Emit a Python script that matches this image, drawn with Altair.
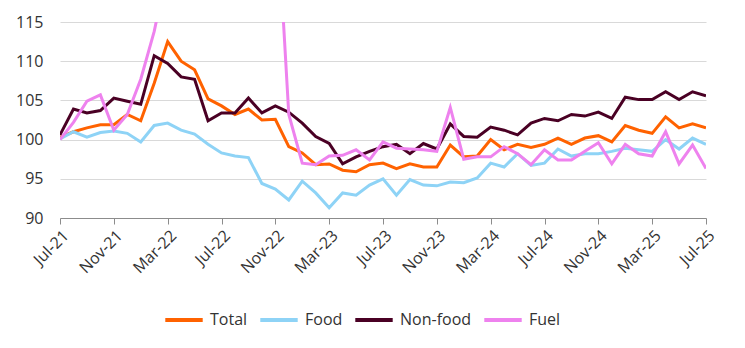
import altair as alt
import pandas as pd

months = [
    "Jul-21", "Aug-21", "Sep-21", "Oct-21", "Nov-21", "Dec-21",
    "Jan-22", "Feb-22", "Mar-22", "Apr-22", "May-22", "Jun-22",
    "Jul-22", "Aug-22", "Sep-22", "Oct-22", "Nov-22", "Dec-22",
    "Jan-23", "Feb-23", "Mar-23", "Apr-23", "May-23", "Jun-23",
    "Jul-23", "Aug-23", "Sep-23", "Oct-23", "Nov-23", "Dec-23",
    "Jan-24", "Feb-24", "Mar-24", "Apr-24", "May-24", "Jun-24",
    "Jul-24", "Aug-24", "Sep-24", "Oct-24", "Nov-24", "Dec-24",
    "Jan-25", "Feb-25", "Mar-25", "Apr-25", "May-25", "Jun-25",
    "Jul-25",
]

tick_labels = ["Jul-21", "Nov-21", "Mar-22", "Jul-22", "Nov-22", "Mar-23", "Jul-23",
               "Nov-23", "Mar-24", "Jul-24", "Nov-24", "Mar-25", "Jul-25"]
y_ticks = [90, 95, 100, 105, 110, 115]

total = [100.3, 101.0, 101.5, 101.9, 101.9, 103.2, 102.4, 107.2, 112.5, 110.0,
         108.9, 105.2, 104.3, 103.2, 103.9, 102.5, 102.6, 99.1, 98.3, 96.8,
         96.9, 96.1, 95.9, 96.8, 97.0, 96.3, 96.9, 96.5, 96.5, 99.3,
         97.8, 97.9, 100.0, 98.7, 99.4, 99.0, 99.4, 100.2, 99.4, 100.2,
         100.5, 99.7, 101.8, 101.2, 100.8, 102.9, 101.5, 102.0, 101.5]

food = [100.1, 101.0, 100.3, 100.9, 101.1, 100.8, 99.7, 101.8, 102.1, 101.2,
        100.7, 99.4, 98.3, 97.9, 97.7, 94.4, 93.7, 92.3, 94.7, 93.2,
        91.3, 93.2, 92.9, 94.2, 95.0, 92.9, 94.9, 94.2, 94.1, 94.6,
        94.5, 95.1, 97.0, 96.5, 98.2, 96.7, 97.0, 98.8, 97.9, 98.2,
        98.2, 98.5, 98.9, 98.7, 98.5, 100.0, 98.8, 100.2, 99.4]

nonfood = [100.6, 103.9, 103.4, 103.7, 105.3, 104.9, 104.5, 110.7, 109.7, 108.0,
           107.7, 102.4, 103.4, 103.4, 105.3, 103.4, 104.3, 103.5, 102.1, 100.4,
           99.5, 96.9, 97.8, 98.5, 99.1, 99.4, 98.2, 99.5, 98.8, 102.0,
           100.4, 100.3, 101.6, 101.2, 100.6, 102.1, 102.7, 102.4, 103.2, 103.0,
           103.5, 102.7, 105.4, 105.1, 105.1, 106.1, 105.1, 106.1, 105.6]

fuel = [100.0, 102.2, 104.9, 105.7, 101.2, 103.2, 107.7, 113.8, 122.0, 128.0,
        136.0, 142.0, 140.0, 135.0, 132.0, 134.0, 133.0, 103.2, 97.0, 96.8,
        97.9, 98.0, 98.7, 97.4, 99.7, 98.9, 98.8, 98.7, 98.5, 104.1,
        97.5, 97.8, 97.8, 99.1, 98.2, 96.8, 98.7, 97.4, 97.4, 98.5,
        99.6, 96.9, 99.4, 98.2, 97.9, 101.0, 96.9, 99.3, 96.3]

series_names = ["Total", "Food", "Non-food", "Fuel"]
series_values = [total, food, nonfood, fuel]
colors = ["#FF6200", "#8ED3F6", "#4A0024", "#EE82EE"]

rows = []
for name, vals in zip(series_names, series_values):
    for m, v in zip(months, vals):
        rows.append({"month": m, "value": v, "series": name})
df = pd.DataFrame(rows)

chart = alt.Chart(df).mark_line(strokeWidth=3, clip=True).encode(
    x=alt.X(
        "month:N",
        sort=months,
        scale=alt.Scale(type="point", padding=0),
        axis=alt.Axis(
            values=tick_labels,
            labelAngle=-45,
            title=None,
            grid=False,
            domainColor="#8c8c8c",
            tickColor="#8c8c8c",
            tickSize=6,
            labelFontSize=16,
            labelColor="#333333",
            labelPadding=3,
        ),
    ),
    y=alt.Y(
        "value:Q",
        scale=alt.Scale(domain=[90, 115], nice=False, zero=False),
        axis=alt.Axis(
            values=y_ticks,
            title=None,
            domain=False,
            ticks=False,
            gridColor="#d9d9d9",
            labelFontSize=16,
            labelColor="#333333",
            labelPadding=17,
        ),
    ),
    color=alt.Color(
        "series:N",
        scale=alt.Scale(domain=series_names, range=colors),
        legend=alt.Legend(
            title=None,
            orient="none",
            legendX=103,
            legendY=277,
            direction="horizontal",
            symbolType="stroke",
            symbolStrokeWidth=4,
            symbolSize=1400,
            labelFontSize=16,
            labelColor="#333333",
            labelOffset=5,
            columnPadding=4,
        ),
    ),
).properties(
    width=646,
    height=196,
    autosize=alt.AutoSizeParams(type="none"),
    padding={"left": 60, "top": 22, "right": 39, "bottom": 130},
).configure(
    font="Open Sans",
).configure_view(stroke=None)

chart.save("out.html", embed_options={"renderer": "svg", "actions": False})
